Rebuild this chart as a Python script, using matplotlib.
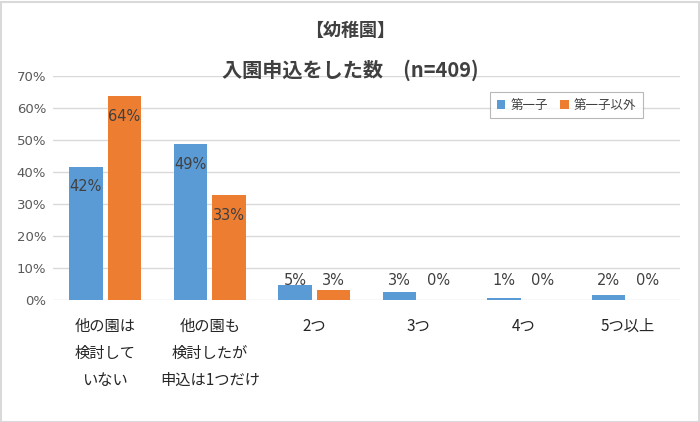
import numpy as np
import matplotlib
matplotlib.use("Agg")
from matplotlib import pyplot as plt
from matplotlib.patches import Rectangle

plt.rcParams['font.family'] = ['Noto Sans CJK JP', 'DejaVu Sans']

categories = ["他の園は\n検討して\nいない", "他の園も\n検討したが\n申込は1つだけ", "2つ", "3つ", "4つ", "5つ以上"]
first_child = [41.7, 48.7, 4.6, 2.6, 0.6, 1.6]
other_child = [63.6, 32.7, 3.2, 0.0, 0.0, 0.0]
series_names = ["第一子", "第一子以外"]
yticks = [0, 10, 20, 30, 40, 50, 60, 70]

blue = "#5B9BD5"
orange = "#ED7D31"
text_col = "#404040"

fig = plt.figure(figsize=(7, 4.22), dpi=100)
ax = fig.add_axes([53 / 700, 1 - 300 / 422, (680 - 53) / 700, (300 - 76) / 422])

x = np.arange(len(categories))
w = 0.32
off = 0.185
ax.bar(x - off, first_child, w, color=blue, label=series_names[0], zorder=3)
ax.bar(x + off, other_child, w, color=orange, label=series_names[1], zorder=3)

# data labels: inside end for tall bars, above for short ones
for xs, vals in ((x - off, first_child), (x + off, other_child)):
    for xi, v in zip(xs, vals):
        y = v - 6.3 if v > 10 else 6.2
        ax.text(xi, y, f"{v:.0f}%", ha="center", va="center", family="DejaVu Sans",
                fontsize=10.5, color=text_col, zorder=4)

ax.set_xlim(-0.5, len(categories) - 0.5)
ax.set_ylim(0, 70)
ax.set_yticks(yticks)
ax.set_yticklabels([f"{t}%" for t in yticks], fontsize=9.5, color="#595959",
                   family="DejaVu Sans")
ax.set_xticks(x)
ax.set_xticklabels(categories, fontsize=11, color="#262626", linespacing=1.75, va="top")
ax.tick_params(axis="both", length=0)
ax.tick_params(axis="x", pad=13)
ax.tick_params(axis="y", pad=5)
ax.grid(axis="y", color="#d9d9d9", linewidth=1, zorder=0)
for s in ax.spines.values():
    s.set_visible(False)

fig.text(0.5, 1 - 30 / 422, "【幼稚園】", ha="center", va="center",
         fontsize=13, fontweight="bold", color="#404040")
fig.text(0.5, 1 - 70 / 422, "入園申込をした数　(n=409)", ha="center", va="center",
         fontsize=14.5, fontweight="bold", color="#404040")

leg = ax.legend(loc="upper left", bbox_to_anchor=(484 / 700, 1 - 86 / 422),
                bbox_transform=fig.transFigure, ncol=2, fontsize=9,
                frameon=True, fancybox=False, edgecolor="#a6a6a6",
                handlelength=0.7, handleheight=0.7, columnspacing=1.0,
                handletextpad=0.4, borderpad=0.5)
leg.get_frame().set_linewidth(0.8)
for t in leg.get_texts():
    t.set_color("#404040")

fig.patches.append(Rectangle((0.5 / 700, 0.5 / 422), 698 / 700, 420 / 422,
                             transform=fig.transFigure, fill=False,
                             edgecolor="#d9d9d9", linewidth=1.5))

fig.savefig("out.png", dpi=100)
